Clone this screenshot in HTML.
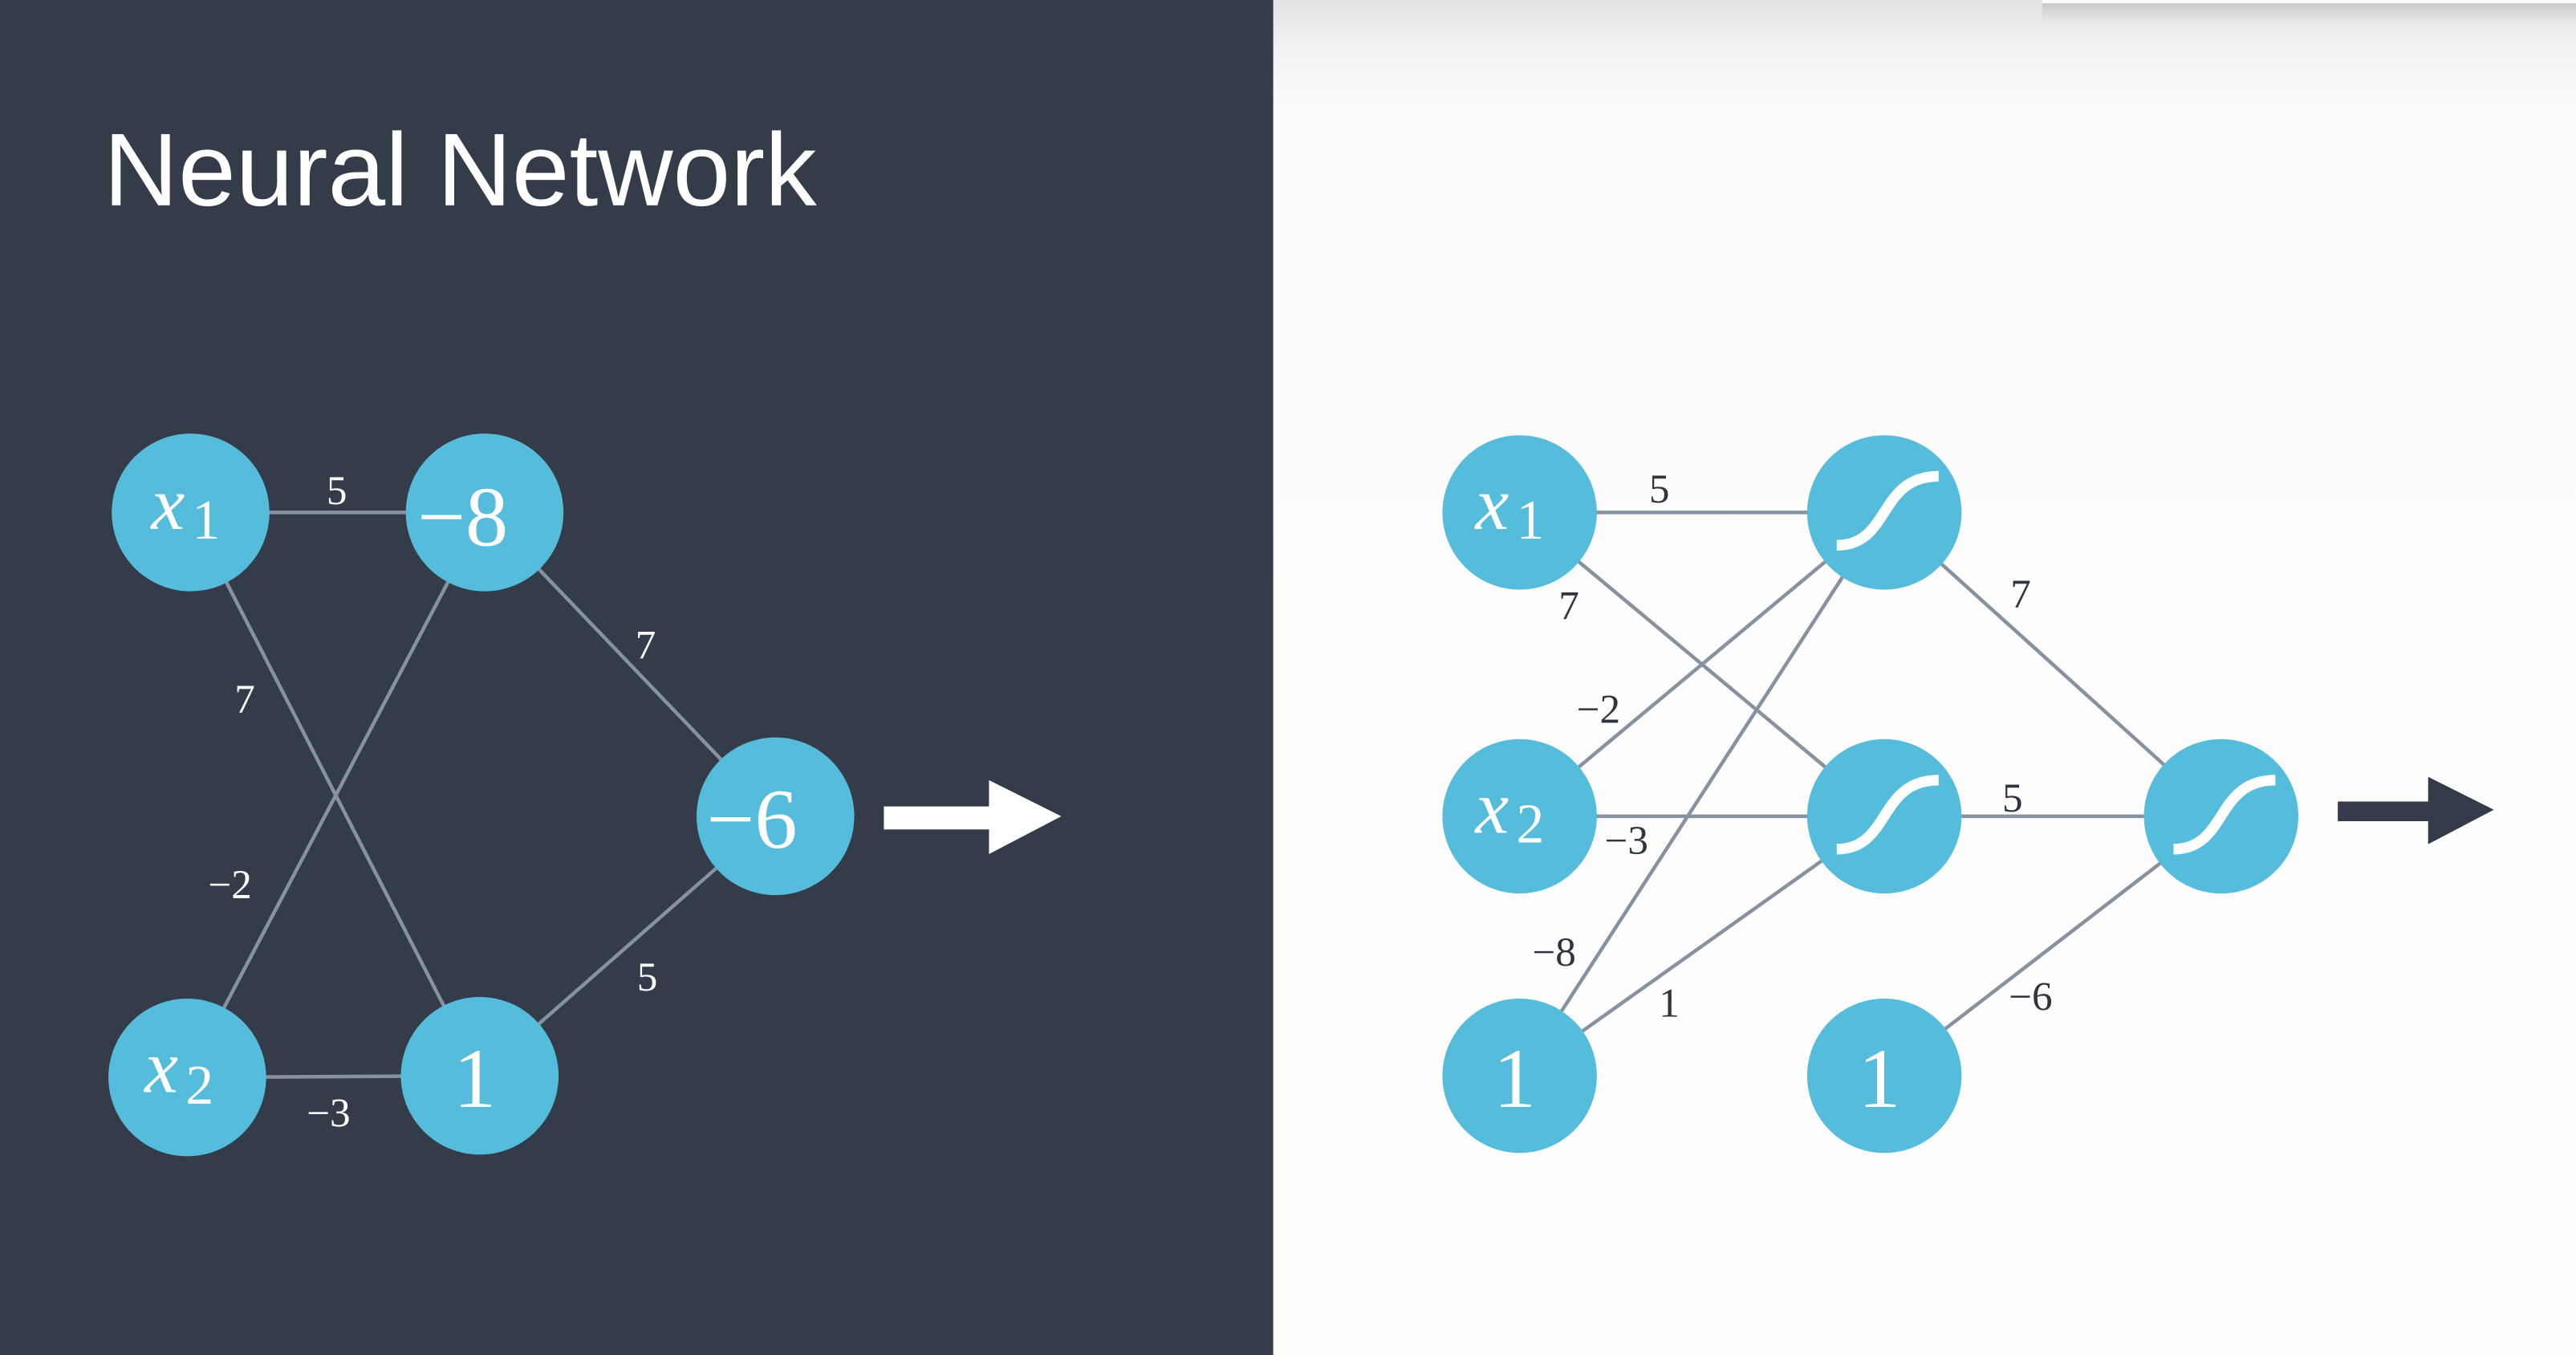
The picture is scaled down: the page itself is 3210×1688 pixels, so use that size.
<!DOCTYPE html>
<html><head><meta charset="utf-8"><style>
html,body{margin:0;padding:0;width:3210px;height:1688px;overflow:hidden;background:#fff}
svg{display:block}
</style></head><body>
<svg width="3210" height="1688" viewBox="0 0 1568 825" preserveAspectRatio="none" xmlns="http://www.w3.org/2000/svg">
<defs>
<linearGradient id="wg" x1="0" y1="0" x2="0" y2="1">
<stop offset="0" stop-color="#e3e3e3"/><stop offset="0.035" stop-color="#f2f2f2"/><stop offset="0.085" stop-color="#fcfcfc"/><stop offset="1" stop-color="#fefefe"/>
</linearGradient>
<linearGradient id="sh" x1="0" y1="0" x2="0" y2="1">
<stop offset="0" stop-color="#000" stop-opacity="0.12"/><stop offset="1" stop-color="#000" stop-opacity="0"/>
</linearGradient>
<g id="sig"><path d="M-29,20 C 4,20 -4,-22 33,-22" fill="none" stroke="#fff" stroke-width="6.5"/></g>
</defs>
<rect x="0" y="0" width="1568" height="825" fill="url(#wg)"/>
<rect x="1243" y="2" width="325" height="12" fill="url(#sh)"/>
<rect x="1243" y="0" width="325" height="2" fill="#fafafa"/>
<rect x="0" y="0" width="775" height="825" fill="#333c48"/>
<text x="63" y="125" font-family="Liberation Sans, sans-serif" font-size="63" fill="#fff" font-weight="300">Neural Network</text>

<g stroke="#8792a0" stroke-width="2.2">
<line x1="116" y1="312" x2="295" y2="312"/>
<line x1="116" y1="312" x2="292" y2="655"/>
<line x1="114" y1="656" x2="295" y2="312"/>
<line x1="114" y1="656" x2="292" y2="655"/>
<line x1="295" y1="312" x2="472" y2="497"/>
<line x1="292" y1="655" x2="472" y2="497"/>
</g>
<g fill="#56bcdb">
<circle cx="116" cy="312" r="48"/><circle cx="295" cy="312" r="48"/><circle cx="472" cy="497" r="48"/>
<circle cx="114" cy="656" r="48"/><circle cx="292" cy="655" r="48"/>
</g>
<g font-family="Liberation Serif, serif" fill="#fff">
<text x="92" y="322" font-size="46" font-style="italic">x</text><text x="117" y="328" font-size="34">1</text>
<text x="254" y="332" font-size="52">−8</text>
<text x="430" y="516" font-size="52">−6</text>
<text x="88" y="665" font-size="46" font-style="italic">x</text><text x="113" y="672" font-size="34">2</text>
<text x="276" y="674" font-size="52">1</text>
</g>
<g font-family="Liberation Serif, serif" fill="#fff" font-size="25" text-anchor="middle">
<text x="205" y="307">5</text>
<text x="149" y="434">7</text>
<text x="140" y="547">−2</text>
<text x="200" y="686">−3</text>
<text x="393" y="401">7</text>
<text x="394" y="603">5</text>
</g>
<polygon points="538,491 602,491 602,475 646,497 602,520 602,505 538,505" fill="#fff"/>

<g stroke="#8792a0" stroke-width="2.2">
<line x1="925" y1="312" x2="1147" y2="312"/>
<line x1="925" y1="312" x2="1147" y2="497"/>
<line x1="925" y1="497" x2="1147" y2="312"/>
<line x1="925" y1="497" x2="1147" y2="497"/>
<line x1="925" y1="655" x2="1147" y2="312"/>
<line x1="925" y1="655" x2="1147" y2="497"/>
<line x1="1147" y1="312" x2="1352" y2="497"/>
<line x1="1147" y1="497" x2="1352" y2="497"/>
<line x1="1147" y1="655" x2="1352" y2="497"/>
</g>
<g fill="#56bcdb">
<circle cx="925" cy="312" r="47"/><circle cx="925" cy="497" r="47"/><circle cx="925" cy="655" r="47"/>
<circle cx="1147" cy="312" r="47"/><circle cx="1147" cy="497" r="47"/><circle cx="1147" cy="655" r="47"/>
<circle cx="1352" cy="497" r="47"/>
</g>
<use href="#sig" x="1147" y="312"/>
<use href="#sig" x="1147" y="497"/>
<use href="#sig" x="1352" y="497"/>
<g font-family="Liberation Serif, serif" fill="#fff">
<text x="898" y="322" font-size="46" font-style="italic">x</text><text x="923" y="328" font-size="34">1</text>
<text x="898" y="507" font-size="46" font-style="italic">x</text><text x="923" y="513" font-size="34">2</text>
<text x="909" y="674" font-size="52">1</text>
<text x="1131" y="674" font-size="52">1</text>
</g>
<g font-family="Liberation Serif, serif" fill="#2d3540" font-size="25" text-anchor="middle">
<text x="1010" y="306">5</text>
<text x="955" y="377">7</text>
<text x="973" y="440">−2</text>
<text x="990" y="520">−3</text>
<text x="946" y="588">−8</text>
<text x="1016" y="619">1</text>
<text x="1230" y="370">7</text>
<text x="1225" y="494">5</text>
<text x="1236" y="615">−6</text>
</g>
<polygon points="1423,488 1478,488 1478,473 1518,493 1478,514 1478,500 1423,500" fill="#333c48"/>
</svg>
</body></html>
